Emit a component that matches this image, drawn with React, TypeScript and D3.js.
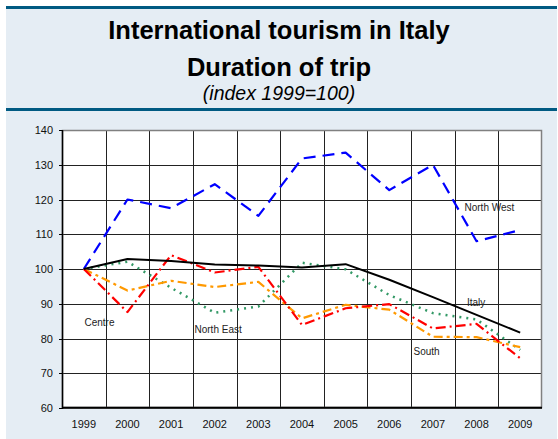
import React from "react";
import * as d3 from "d3";

const years = ["1999", "2000", "2001", "2002", "2003", "2004", "2005", "2006", "2007", "2008", "2009"];
const italy = [100, 102.9, 102.3, 101.3, 101, 100.4, 101.4, 96.9, 91.9, 86.8, 81.7];
const northWest = [100, 120, 117.5, 124.4, 115.3, 131.8, 133.5, 122.7, 130, 108, 111.2];
const northEast = [100, 102.1, 94.6, 87.4, 89.2, 101.8, 99.9, 92.5, 87.3, 85.5, 76.7];
const centre = [100, 87.6, 104, 99, 100.6, 83.9, 88.7, 89.9, 82.9, 84.2, 74.3];
const south = [100, 93.8, 96.6, 94.8, 96.3, 85.8, 89.7, 88.3, 80.5, 80.4, 77.5];
const yTicks = [60, 70, 80, 90, 100, 110, 120, 130, 140];

const series = [
  { name: "North East", values: northEast, color: "#339966", dash: "2,5", width: 2.5 },
  { name: "South", values: south, color: "#ff9900", dash: "9,4,3,4", width: 2.2 },
  { name: "Centre", values: centre, color: "#ff0000", dash: "10,4,2,4", width: 2.2 },
  { name: "North West", values: northWest, color: "#0000ff", dash: "12,7", width: 2.2 },
  { name: "Italy", values: italy, color: "#000000", dash: null, width: 2 },
];

// series name labels, placed in pixels like the original chart
const labels = [
  { text: "North West", x: 464.5, y: 211 },
  { text: "Italy", x: 467, y: 305.5 },
  { text: "South", x: 413.5, y: 354.5 },
  { text: "Centre", x: 84.5, y: 325.5 },
  { text: "North East", x: 194.5, y: 332.5 },
];

export default function App() {
  const W = 558, H = 439;
  const left = 62, right = 542, top = 130, bottom = 408;

  const x = d3.scaleBand<string>().domain(years).range([left, right]).padding(0);
  const y = d3.scaleLinear().domain([60, 140]).range([bottom, top]);
  const cx = (i: number) => (x(years[i]) as number) + x.bandwidth() / 2;

  const line = d3
    .line<number>()
    .x((d, i) => cx(i))
    .y(d => y(d));

  const snap = (v: number) => Math.round(v) + 0.5;

  return (
    <svg
      width={W}
      height={H}
      style={{ position: "absolute", left: 0, top: 0 }}
      fontFamily="'Liberation Sans', Arial, sans-serif"
    >
      <rect x={0} y={0} width={W} height={H} fill="#ffffff" />
      <rect x={6} y={6} width={551} height={H - 6} fill="#e5edf4" />
      <rect x={6} y={6} width={551} height={3} fill="#005a82" />
      <rect x={6} y={108} width={551} height={3} fill="#005a82" />

      <text x={279} y={39} textAnchor="middle" fontSize={25.5} fontWeight="bold" fill="#000">
        International tourism in Italy
      </text>
      <text x={279} y={76} textAnchor="middle" fontSize={25.5} fontWeight="bold" fill="#000">
        Duration of trip
      </text>
      <text x={279} y={100} textAnchor="middle" fontSize={19.5} fontStyle="italic" fill="#000">
        (index 1999=100)
      </text>

      <rect x={left} y={top} width={right - left} height={bottom - top} fill="#ffffff" />

      {/* horizontal grid */}
      {yTicks.map(t => (
        <line key={"h" + t} x1={left} x2={right} y1={snap(y(t))} y2={snap(y(t))} stroke="#222" strokeWidth={1} />
      ))}
      {/* vertical grid at category boundaries */}
      {years.slice(1).map(yr => (
        <line
          key={"v" + yr}
          x1={snap(x(yr) as number)}
          x2={snap(x(yr) as number)}
          y1={top}
          y2={bottom}
          stroke="#222"
          strokeWidth={1}
        />
      ))}
      {/* border */}
      <rect x={left + 0.5} y={top + 0.5} width={right - left - 1} height={bottom - top - 1} fill="none" stroke="#808080" strokeWidth={1.5} />
      <line x1={left + 0.5} x2={left + 0.5} y1={top} y2={bottom + 1} stroke="#000" strokeWidth={1.5} />
      <line x1={left} x2={right} y1={bottom - 0.5} y2={bottom - 0.5} stroke="#000" strokeWidth={1.5} />
      {yTicks.map(t => (
        <line key={"t" + t} x1={left - 3} x2={left} y1={snap(y(t))} y2={snap(y(t))} stroke="#000" strokeWidth={1} />
      ))}

      {yTicks.map(t => (
        <text key={"yl" + t} x={53} y={y(t) + 4} textAnchor="end" fontSize={11} fill="#111">
          {t}
        </text>
      ))}
      {years.map((yr, i) => (
        <text key={"xl" + yr} x={cx(i)} y={428} textAnchor="middle" fontSize={11} fill="#111">
          {yr}
        </text>
      ))}

      {series.map(s => (
        <path
          key={s.name}
          d={line(s.values) as string}
          fill="none"
          stroke={s.color}
          strokeWidth={s.width}
          strokeDasharray={s.dash ?? undefined}
          strokeLinejoin="round"
        />
      ))}

      {labels.map(l => (
        <text key={l.text} x={l.x} y={l.y} fontSize={10} fill="#222">
          {l.text}
        </text>
      ))}
    </svg>
  );
}
